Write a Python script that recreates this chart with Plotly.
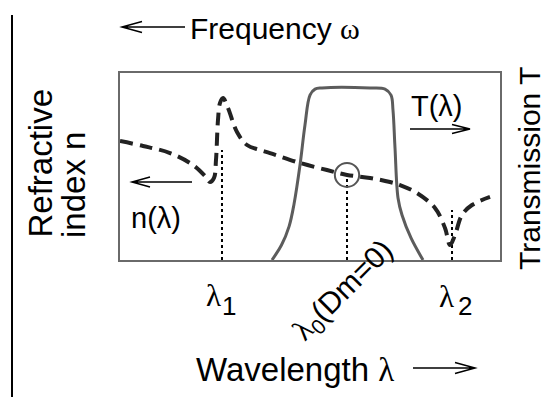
import plotly.graph_objects as go

# ---- data (wavelength in arbitrary units 0..10, values normalised 0..1) ----
n_wl = [0.0, 0.605, 1.316, 1.921, 2.237, 2.368, 2.474, 2.526, 2.579, 2.632, 2.711,
        2.842, 3.079, 3.342, 3.684, 3.947, 4.737, 5.447, 5.974, 6.579, 7.105, 7.368,
        7.816, 8.289, 8.553, 8.684, 8.816, 9.0, 9.263, 9.737]
n_val = [0.636, 0.610, 0.572, 0.508, 0.449, 0.417, 0.439, 0.535, 0.749, 0.840, 0.866,
         0.813, 0.684, 0.615, 0.588, 0.572, 0.519, 0.481, 0.455, 0.439, 0.417, 0.401,
         0.358, 0.278, 0.171, 0.080, 0.134, 0.241, 0.294, 0.337]

t_wl = [4.0, 4.25, 4.45, 4.58, 4.737, 4.868, 5.0, 5.132, 5.316, 6.579, 6.974, 7.132,
        7.184, 7.237, 7.316, 7.421, 7.658, 7.974]
t_val = [0.0, 0.08, 0.18, 0.30, 0.508, 0.722, 0.882, 0.914, 0.920, 0.920, 0.914, 0.882,
         0.802, 0.599, 0.332, 0.241, 0.118, 0.0]

mark_wl = [2.684, 5.974, 8.737]
mark_top = [0.588, 0.444, 0.267]
mark_symbol = ["λ", "λ", "λ"]
mark_sub = ["1", "0", "2"]
mark_suffix = ["", "(Dm=0)", ""]

FONT = "Liberation Sans, Arial, sans-serif"
SERIF = "Liberation Serif, Times New Roman, serif"

fig = go.Figure()

# dotted markers
for xv, yt in zip(mark_wl, mark_top):
    fig.add_trace(go.Scatter(x=[xv, xv], y=[0, yt], mode="lines",
                             line=dict(color="black", width=2, dash="dot"),
                             hoverinfo="skip", showlegend=False))

fig.add_trace(go.Scatter(x=t_wl, y=t_val, mode="lines", line_shape="spline",
                         line=dict(color="#5c5c5c", width=3), showlegend=False))
fig.add_trace(go.Scatter(x=n_wl, y=n_val, mode="lines", line_shape="spline",
                         line=dict(color="#222222", width=4, dash="13px,7px"),
                         showlegend=False))

W, H = 550, 397
L, R, T, B = 120, 50, 73, 137


def px(x):
    return (x - L) / (W - L - R)


def py(y):
    return (H - B - y) / (H - T - B)


shapes = []
# circle at zero-dispersion point
shapes.append(dict(type="circle", xref="x", yref="y",
                   x0=mark_wl[1] - 0.32, x1=mark_wl[1] + 0.32,
                   y0=0.455 - 0.064, y1=0.455 + 0.064,
                   line=dict(color="#555555", width=2)))
# left vertical rule
shapes.append(dict(type="line", xref="paper", yref="paper",
                   x0=px(12), x1=px(12), y0=py(15), y1=py(397),
                   line=dict(color="black", width=2)))


def arrow(x0, x1, y, head_left, hl=20, hh=5.5, width=1.5):
    tip = x0 if head_left else x1
    back = tip + hl if head_left else tip - hl
    path = (f"M{px(x0)},{py(y)} L{px(x1)},{py(y)} "
            f"M{px(back)},{py(y - hh)} L{px(tip)},{py(y)} L{px(back)},{py(y + hh)}")
    return dict(type="path", xref="paper", yref="paper", path=path,
                line=dict(color="black", width=width))


shapes.append(arrow(122, 185, 27, True))
shapes.append(arrow(413, 475, 368, False))
shapes.append(arrow(132, 192, 182, True, hl=18, hh=5))
shapes.append(arrow(410, 470, 129, False, hl=18, hh=4.5))

ann = []


def text(t, x, y, size, angle=0, align="center", family=FONT,
         xanchor="center", yanchor="middle"):
    ann.append(dict(text=t, x=px(x), y=py(y), xref="paper", yref="paper",
                    showarrow=False, xanchor=xanchor, yanchor=yanchor,
                    textangle=angle, align=align,
                    font=dict(family=family, size=size, color="black")))


text("Frequency <span style='font-family:Liberation Serif'>ω</span>", 275, 29, 30)
text("Wavelength <span style='font-family:Liberation Serif'>λ</span>", 295, 369, 33)
text("Refractive", 40, 240, 33, angle=-90, yanchor="bottom")
text("index n", 73, 240, 33, angle=-90, yanchor="bottom")
text("Transmission T", 529, 169, 30, angle=-90)
text("T(λ)", 437, 106, 29)
text("n(λ)", 156, 218, 29)

# wavelength markers: λ1 and λ2 horizontal, λ0(Dm=0) rotated
sym_pos = [(213, 295), None, (446, 296)]
sub_pos = [(229, 306), None, (465, 306)]
for i in range(3):
    if mark_suffix[i]:
        lab = (f"<span style='font-family:Liberation Serif'>{mark_symbol[i]}</span>"
               f"<sub>{mark_sub[i]}</sub>{mark_suffix[i]}")
        text(lab, 343, 291, 30, angle=-45)
    else:
        text(mark_symbol[i], *sym_pos[i], 31, family=SERIF)
        text(mark_sub[i], *sub_pos[i], 26)

fig.update_layout(
    width=W, height=H, margin=dict(l=L, r=R, t=T, b=B),
    paper_bgcolor="white", plot_bgcolor="white",
    shapes=shapes, annotations=ann, showlegend=False,
)
fig.update_xaxes(range=[0, 10], showline=True, mirror=True, linecolor="#6a6a6a",
                 linewidth=1.5, showgrid=False, zeroline=False, showticklabels=False,
                 ticks="")
fig.update_yaxes(range=[0, 1], showline=True, mirror=True, linecolor="#6a6a6a",
                 linewidth=1.5, showgrid=False, zeroline=False, showticklabels=False,
                 ticks="")

fig.write_html("out.html")
